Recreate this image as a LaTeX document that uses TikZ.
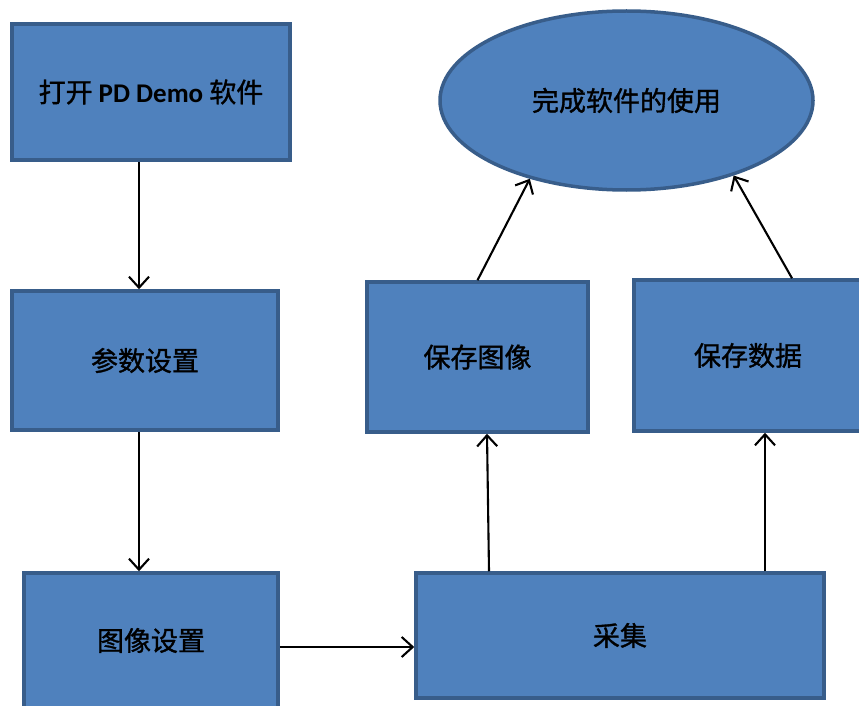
\documentclass[tikz,border=0pt]{standalone}
\usepackage{fontspec}
\setmainfont{Carlito}
\newfontfamily\cjk[FakeBold=1.2]{Noto Sans CJK SC}
\newfontfamily\latin{Carlito}
\usepackage{tikz}
\usepackage{xcolor}
\usetikzlibrary{shapes.geometric, arrows.meta, positioning}

\definecolor{boxfill}{HTML}{4F81BD}
\definecolor{boxline}{HTML}{385D8A}

\tikzset{
  stepbox/.style={rectangle, draw=boxline, fill=boxfill, line width=3.5pt,
    inner sep=0pt, font=\fontsize{27}{31}\selectfont\cjk},
  endoval/.style={ellipse, draw=boxline, fill=boxfill, line width=3.5pt,
    inner sep=0pt, font=\fontsize{27}{31}\selectfont\cjk},
  flow/.style={line width=2.1pt, -{Straight Barb[length=11pt,width=20pt,line width=2.1pt]}}
}

\begin{document}
\begin{tikzpicture}[x=1pt, y=-1pt]
\useasboundingbox (0,0) rectangle (859,706);
\clip (0,0) rectangle (859,706);

\node[stepbox, minimum width=278pt, minimum height=136pt] (open) at (151,92)
  {打开 {\latin\bfseries PD Demo} 软件};
\node[stepbox, minimum width=266pt, minimum height=139pt, below=127.5pt of open, xshift=-6pt] (param) {参数设置};
\node[stepbox, minimum width=254pt, minimum height=135pt, below=139.5pt of param, xshift=6pt] (imgset) {图像设置};
\node[stepbox, minimum width=408pt, minimum height=125pt, right=134.5pt of imgset, yshift=5pt] (collect) {采集};
\node[stepbox, minimum width=221pt, minimum height=150pt] (saveimg) at (477.5,357) {保存图像};
\node[stepbox, minimum width=228pt, minimum height=151pt] (savedata) at (748,355.5) {保存数据};
\node[endoval, minimum width=373pt, minimum height=179pt] (finish) at (626.5,100.5) {完成软件的使用};

\draw[flow] ([xshift=-12pt]open.south) -- ([xshift=-6pt]param.north);
\draw[flow] ([xshift=-6pt]param.south) -- ([xshift=-12pt]imgset.north);
\draw[flow] ([yshift=-6.5pt]imgset.east) -- ([yshift=-6.5pt]imgset.east -| collect.west);
\draw[flow] ([xshift=-131pt]collect.north) -- ([xshift=9.5pt]saveimg.south);
\draw[flow] ([xshift=145pt]collect.north) -- ([xshift=17pt]savedata.south);
\draw[flow] (saveimg.north) -- (finish.219);
\draw[flow] ([xshift=44pt]savedata.north) -- (finish.325);
\end{tikzpicture}
\end{document}
